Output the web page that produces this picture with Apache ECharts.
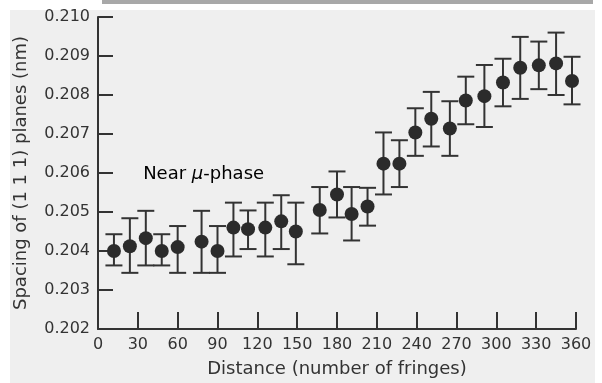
<!DOCTYPE html>
<html>
<head>
<meta charset="utf-8">
<script src="https://cdn.jsdelivr.net/npm/echarts@6/dist/echarts.min.js"></script>
<style>
  html, body { margin: 0; padding: 0; background: #ffffff; }
  #chart { width: 602px; height: 383px; }
</style>
</head>
<body>
<div id="chart"></div>
<script>
// Distance (number of fringes)
var distances = [12, 24, 36, 48, 60, 78, 90, 102, 113, 126, 138, 149, 167, 180, 191, 203, 215, 227, 239, 251, 265, 277, 291, 305, 318, 332, 345, 357];
// Spacing of (1 1 1) planes (nm)
var spacing = [0.2040, 0.20412, 0.20433, 0.2040, 0.2041, 0.20424, 0.2040, 0.2046, 0.20456, 0.2046, 0.20476, 0.2045, 0.20505, 0.20545, 0.20495, 0.20514, 0.20624, 0.20624, 0.20704, 0.20739, 0.20714, 0.20786, 0.20797, 0.20832, 0.2087, 0.20876, 0.20881, 0.20836];
var errLow = [0.20363, 0.20344, 0.20363, 0.20363, 0.20344, 0.20344, 0.20344, 0.20386, 0.20405, 0.20386, 0.20405, 0.20366, 0.20445, 0.20486, 0.20427, 0.20465, 0.20545, 0.20564, 0.20644, 0.20668, 0.20644, 0.20725, 0.20718, 0.20771, 0.2079, 0.20815, 0.208, 0.20776];
var errHigh = [0.20443, 0.20484, 0.20503, 0.20443, 0.20464, 0.20503, 0.20464, 0.20524, 0.20504, 0.20524, 0.20543, 0.20524, 0.20564, 0.20604, 0.20564, 0.20562, 0.20704, 0.20684, 0.20766, 0.20808, 0.20784, 0.20847, 0.20877, 0.20893, 0.20949, 0.20937, 0.2096, 0.20898];
var xTicks = [0, 30, 60, 90, 120, 150, 180, 210, 240, 270, 300, 330, 360];
var yTicks = [0.202, 0.203, 0.204, 0.205, 0.206, 0.207, 0.208, 0.209, 0.210];
var annotationParts = ['Near ', 'μ', '-phase'];
var annotationAt = [34, 0.20574];

var FONT = 'DejaVu Sans';
var INK = '#333333';
var DOT = '#2b2b2b';

var chart = echarts.init(document.getElementById('chart'), null, { renderer: 'canvas' });

var pointData = distances.map(function (d, i) { return [d, spacing[i]]; });
var errData = distances.map(function (d, i) { return [d, errLow[i], errHigh[i]]; });

var backdrop = [
  { type: 'rect', z: -10, shape: { x: 10, y: 10, width: 585, height: 373 }, style: { fill: '#efefef' } },
  { type: 'rect', z: -10, shape: { x: 102, y: 0, width: 491, height: 4 }, style: { fill: '#a8a8a8' } }
];

var option = {
  backgroundColor: '#ffffff',
  animation: false,
  graphic: backdrop,
  grid: { left: 98, right: 26, top: 17, bottom: 50, containLabel: false },
  xAxis: {
    type: 'value',
    min: xTicks[0], max: xTicks[xTicks.length - 1], interval: 30,
    name: 'Distance (number of fringes)',
    nameLocation: 'middle', nameGap: 31,
    nameTextStyle: { fontFamily: FONT, fontSize: 18, color: INK },
    axisLine: { show: true, lineStyle: { color: INK, width: 2 } },
    axisTick: { show: true, inside: true, length: 17, lineStyle: { color: INK, width: 2 } },
    axisLabel: { fontFamily: FONT, fontSize: 16, color: INK, margin: 8 },
    splitLine: { show: false }
  },
  yAxis: {
    type: 'value',
    min: yTicks[0], max: yTicks[yTicks.length - 1], interval: 0.001,
    name: 'Spacing of (1 1 1) planes (nm)',
    nameLocation: 'middle', nameGap: 68, nameRotate: 90,
    nameTextStyle: { fontFamily: FONT, fontSize: 18, color: INK },
    axisLine: { show: true, lineStyle: { color: INK, width: 2 } },
    axisTick: { show: true, inside: true, length: 15, lineStyle: { color: INK, width: 2 } },
    axisLabel: { fontFamily: FONT, fontSize: 16, color: INK, margin: 8,
      formatter: function (v) { return v.toFixed(3); } },
    splitLine: { show: false }
  },
  series: [
    {
      type: 'custom',
      data: errData,
      z: 2,
      renderItem: function (params, api) {
        var x = api.value(0);
        var lo = api.coord([x, api.value(1)]);
        var hi = api.coord([x, api.value(2)]);
        var hw = 8.5;
        var st = { stroke: '#333333', lineWidth: 2, fill: null };
        return {
          type: 'group',
          children: [
            { type: 'line', shape: { x1: lo[0], y1: lo[1], x2: hi[0], y2: hi[1] }, style: st },
            { type: 'line', shape: { x1: lo[0] - hw, y1: lo[1], x2: lo[0] + hw, y2: lo[1] }, style: st },
            { type: 'line', shape: { x1: hi[0] - hw, y1: hi[1], x2: hi[0] + hw, y2: hi[1] }, style: st }
          ]
        };
      }
    },
    {
      type: 'scatter',
      data: pointData,
      z: 3,
      symbol: 'circle',
      symbolSize: 14,
      itemStyle: { color: DOT, opacity: 1 }
    }
  ]
};

chart.setOption(option);

var p = chart.convertToPixel({ gridIndex: 0 }, annotationAt);
chart.setOption({
  graphic: backdrop.concat([
    { type: 'text', x: p[0], y: p[1], z: 5,
      style: {
        text: '{n|' + annotationParts[0] + '}{m|' + annotationParts[1] + '}{n|' + annotationParts[2] + '}',
        textAlign: 'left', textVerticalAlign: 'bottom',
        rich: {
          n: { fontFamily: FONT, fontSize: 18, color: INK },
          m: { fontFamily: FONT, fontSize: 18, fontStyle: 'italic', color: INK }
        }
      } }
  ])
});
</script>
</body>
</html>
